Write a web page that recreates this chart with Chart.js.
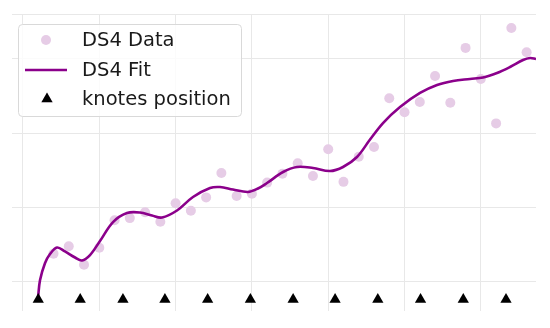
<!DOCTYPE html>
<html>
<head>
<meta charset="utf-8">
<script src="https://cdn.jsdelivr.net/npm/chart.js@4"></script>
<style>
  html, body { margin: 0; padding: 0; background: #fff; }
  #wrap { width: 550px; height: 328px; }
</style>
</head>
<body>
<div id="wrap"><canvas id="myChart"></canvas></div>
<script>
// data
const dataX = [0.4, 0.6, 0.8, 1.0, 1.2, 1.4, 1.6, 1.8, 2.0, 2.2, 2.4, 2.6, 2.8, 3.0, 3.2, 3.4,
               3.6, 3.8, 4.0, 4.2, 4.4, 4.6, 4.8, 5.0, 5.2, 5.4, 5.6, 5.8, 6.0, 6.2, 6.4, 6.6];
const dataY = [0.37, 0.47, 0.22, 0.45, 0.82, 0.85, 0.93, 0.80, 1.05, 0.95, 1.13, 1.46, 1.15, 1.18, 1.33, 1.45,
               1.59, 1.42, 1.78, 1.34, 1.68, 1.81, 2.47, 2.28, 2.42, 2.77, 2.41, 3.15, 2.73, 2.13, 3.42, 3.09];

const fitX = [0.197, 0.223, 0.288, 0.354, 0.446, 0.55, 0.682, 0.773, 0.878, 1.009, 1.18, 1.363, 1.533,
              1.691, 1.822, 2.018, 2.228, 2.451, 2.582, 2.752, 2.949, 3.08, 3.198, 3.408, 3.591, 3.801,
              4.024, 4.194, 4.377, 4.548, 4.718, 4.941, 5.203, 5.426, 5.636, 5.858, 6.029, 6.212,
              6.383, 6.553, 6.645, 6.723];
const fitY = [-0.23, 0.01, 0.24, 0.365, 0.453, 0.40, 0.318, 0.277, 0.351, 0.541, 0.797, 0.919, 0.926,
              0.885, 0.858, 0.953, 1.135, 1.257, 1.27, 1.236, 1.203, 1.25, 1.324, 1.473, 1.541, 1.527,
              1.486, 1.541, 1.676, 1.912, 2.135, 2.351, 2.541, 2.649, 2.703, 2.73, 2.75, 2.811,
              2.892, 2.986, 3.014, 3.0];

const knotX = [0.2, 0.75, 1.31, 1.86, 2.42, 2.98, 3.54, 4.09, 4.65, 5.21, 5.77, 6.33];
const knotY = -0.25;

const gridX = [0, 1, 2, 3, 4, 5, 6];
const gridY = [0, 1, 2, 3];
const xMin = -0.144, xMax = 6.723;
const yMin = -0.405, yMax = 3.608;

const pts = (xs, ys) => xs.map((x, i) => ({ x: x, y: Array.isArray(ys) ? ys[i] : ys }));

// matplotlib-like legend box in the upper left
const legendBox = {
  id: 'legendBox',
  afterDraw(chart) {
    const ctx = chart.ctx;
    const ds = chart.data.datasets;
    ctx.save();
    ctx.beginPath();
    ctx.roundRect(18.5, 24.5, 223, 92, 4);
    ctx.fillStyle = 'rgba(255,255,255,0.8)';
    ctx.fill();
    ctx.strokeStyle = '#d9d9d9';
    ctx.lineWidth = 1;
    ctx.stroke();

    const rows = [40, 70, 99];
    ctx.font = '19.5px "DejaVu Sans"';
    ctx.fillStyle = '#1a1a1a';
    ctx.textBaseline = 'middle';
    ds.forEach((d, i) => {
      ctx.fillText(d.label, 82, rows[i] + 1);
    });

    // handles
    ctx.fillStyle = ds[0].backgroundColor;
    ctx.beginPath();
    ctx.arc(46, rows[0], 5, 0, Math.PI * 2);
    ctx.fill();

    ctx.strokeStyle = ds[1].borderColor;
    ctx.lineWidth = ds[1].borderWidth;
    ctx.beginPath();
    ctx.moveTo(25, rows[1]);
    ctx.lineTo(67, rows[1]);
    ctx.stroke();

    Chart.helpers.drawPoint(ctx, { pointStyle: 'triangle', radius: 6.5, borderWidth: 0 }, 47, rows[2]);
    ctx.fillStyle = '#000';
    ctx.fill();
    ctx.restore();
  }
};

const config = {
  type: 'scatter',
  data: {
    datasets: [
      {
        label: 'DS4 Data',
        data: pts(dataX, dataY),
        backgroundColor: 'rgb(230,204,230)',
        borderWidth: 0,
        pointRadius: 5,
        order: 3
      },
      {
        label: 'DS4 Fit',
        data: pts(fitX, fitY),
        showLine: true,
        borderColor: '#8b008b',
        borderWidth: 2.6,
        pointRadius: 0,
        tension: 0.35,
        order: 2
      },
      {
        label: 'knotes position',
        data: pts(knotX, knotY),
        pointStyle: 'triangle',
        backgroundColor: '#000',
        borderWidth: 0,
        pointRadius: 6.5,
        order: 1
      }
    ]
  },
  options: {
    responsive: false,
    animation: false,
    layout: { padding: { left: 12, right: 14, top: 14, bottom: 17 } },
    plugins: { legend: { display: false }, tooltip: { enabled: false } },
    scales: {
      x: {
        min: xMin, max: xMax,
        ticks: { display: false },
        grid: { color: '#e8e8e8', drawTicks: false },
        border: { display: false },
        afterBuildTicks: s => { s.ticks = gridX.map(v => ({ value: v })); }
      },
      y: {
        min: yMin, max: yMax,
        ticks: { display: false },
        grid: { color: '#e8e8e8', drawTicks: false },
        border: { display: false },
        afterBuildTicks: s => { s.ticks = gridY.concat([yMax]).map(v => ({ value: v })); }
      }
    }
  },
  plugins: [legendBox]
};

const canvas = document.getElementById('myChart');
canvas.width = 550;
canvas.height = 328;
const myChart = new Chart(canvas, config);
</script>
</body>
</html>
